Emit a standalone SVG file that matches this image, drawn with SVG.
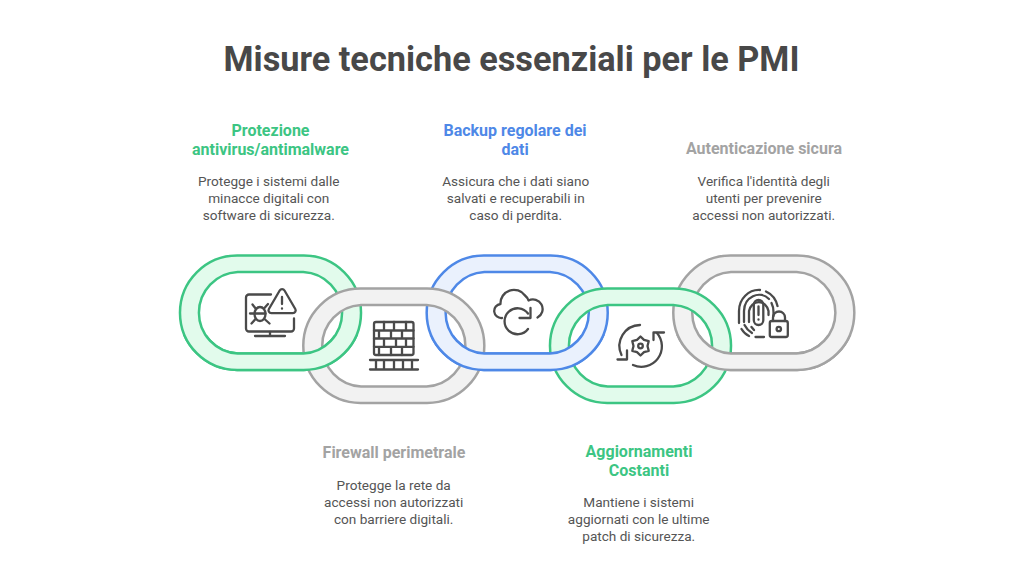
<svg xmlns="http://www.w3.org/2000/svg" width="1024" height="576" viewBox="0 0 1024 576">
<style>
text{font-family:Roboto,"Liberation Sans",sans-serif;text-anchor:middle}
.t{font-size:34.3px;font-weight:700;fill:#484848}
.h{font-size:16px;font-weight:700}
.b{font-size:13.6px;fill:#555}
.g{fill:#e2fbec;stroke:#3cc583}
.u{fill:#eaf1fd;stroke:#4e88e7}
.y{fill:#f2f2f2;stroke:#a3a3a3}
.r{stroke-width:2.5;fill-rule:evenodd}
.i{fill:none;stroke:#4a4a4a;stroke-width:2.3;stroke-linecap:round;stroke-linejoin:round}
</style>
<defs>
<path id="ring" d="M57.200 0H123.800A57.200 57.200 0 0 1 123.800 114.500H57.200A57.200 57.200 0 0 1 57.200 0ZM57.700 16.500A40.800 40.800 0 0 0 57.700 98H123.300A40.800 40.800 0 0 0 123.300 16.500Z"/>
<clipPath id="low"><rect x="0" y="335" width="1024" height="60"/></clipPath>
</defs>
<rect width="1024" height="576" fill="#fff"/>
<text class="t" x="511.500" y="70.500">Misure tecniche essenziali per le PMI</text>

<g id="link-1">
<use href="#ring" class="g r" x="180" y="255.500"/>
<g class="i">
<path d="M271 294.500H249a3 3 0 0 0-3 3V328.500a3 3 0 0 0 3 3H291a3 3 0 0 0 3-3V318.500"/>
<path d="M270 332V335.500M255 336H285"/>
<path d="M279.700 290.500a2.800 2.800 0 0 1 4.800 0L295.300 309a2.800 2.800 0 0 1-2.400 4.200H271.300a2.800 2.800 0 0 1-2.400-4.200Z"/>
<path d="M282 297V304M282 308.500V308.700"/>
<ellipse cx="260" cy="314" rx="5.500" ry="7"/>
<path d="M254.500 313.500H265.500M256 309L252.500 304.500M264 308.500L268 304M254.500 313.500H250M255.500 319L251.500 323.500M264.500 319L269.500 323.500"/>
</g>
<text class="h" fill="#3cc583"><tspan x="270.500" y="135.500">Protezione</tspan><tspan x="270.500" y="154.500">antivirus/antimalware</tspan></text>
<text class="b"><tspan x="268.700" y="185.500">Protegge i sistemi dalle</tspan><tspan x="268.700" y="202.500">minacce digitali con</tspan><tspan x="268.700" y="219.500">software di sicurezza.</tspan></text>
</g>

<g id="link-3">
<use href="#ring" class="u r" x="426.700" y="255.500"/>
<g class="i">
<path d="M502 318A7 7 0 0 1 500.500 304A13.500 13.500 0 0 1 525 295.500Q527.500 297.500 528.500 300.500A9.500 9.500 0 0 1 537.500 317.500"/>
<path d="M528 313.500A13 13 0 1 0 528 329"/>
<path d="M519.500 318H530.500V308"/>
</g>
<text class="h" fill="#4e88e7"><tspan x="515" y="135.500">Backup regolare dei</tspan><tspan x="515" y="154.500">dati</tspan></text>
<text class="b"><tspan x="515.700" y="185.500">Assicura che i dati siano</tspan><tspan x="515.700" y="202.500">salvati e recuperabili in</tspan><tspan x="515.700" y="219.500">caso di perdita.</tspan></text>
</g>

<g id="link-5">
<use href="#ring" class="y r" x="673.300" y="255.500"/>
<g class="i">
<path d="M739 323V311A20 21 0 0 1 760 290M766 291.500A20 21 0 0 1 777.500 306"/>
<path d="M741.500 329Q744.500 334 749 336M755.500 337H764"/>
<path d="M744 322V311A15 16.500 0 0 1 769 299M771.500 303Q773.500 307 773.500 312V316"/>
<path d="M744.500 325Q747 330 752 333"/>
<path d="M749 322V311A10 11.500 0 0 1 768.500 311V315M751.500 327L754 330"/>
<rect x="753.800" y="300" width="9.500" height="25" rx="4.700"/>
<path d="M758.500 306.500V315M758.500 319.500V319.700"/>
<rect x="769.800" y="321" width="18" height="16" rx="2"/>
<path d="M773 321V317.500A6 6 0 0 1 785 317.500V321"/>
<circle cx="778.800" cy="329" r="2.200"/>
</g>
<text class="h" fill="#a3a3a3" x="764" y="153.500">Autenticazione sicura</text>
<text class="b"><tspan x="763.700" y="185.500">Verifica l'identità degli</tspan><tspan x="763.700" y="202.500">utenti per prevenire</tspan><tspan x="763.700" y="219.500">accessi non autorizzati.</tspan></text>
</g>

<g id="link-2">
<use href="#ring" class="y r" x="303.300" y="288.500"/>
<g class="i">
<rect x="374" y="322" width="39.500" height="33" rx="2"/>
<path d="M374 330.500H413.500M374 338.500H413.500M374 346.800H413.500M384 322V330.500M394 322V330.500M406 322V330.500M379 330.500V338.500M391 330.500V338.500M402 330.500V338.500M384 338.500V346.800M396 338.500V346.800M406 338.500V346.800M379 346.800V355M391 346.800V355M402 346.800V355"/>
<path d="M370 360H418M370 369.500H418M376 360V369.500M384 360V369.500M394 360V369.500M403 360V369.500M412 360V369.500"/>
</g>
<text class="h" fill="#a3a3a3" x="394" y="457.500">Firewall perimetrale</text>
<text class="b"><tspan x="393.700" y="489.500">Protegge la rete da</tspan><tspan x="393.700" y="506.500">accessi non autorizzati</tspan><tspan x="393.700" y="523.500">con barriere digitali.</tspan></text>
</g>

<g id="link-4">
<use href="#ring" class="g r" x="550" y="288.500"/>
<g class="i">
<path d="M640 325A21 21 0 0 0 621.500 355"/>
<path d="M617.500 359.500H627V350.500"/>
<path d="M633 365A20.500 20.500 0 0 0 657 333"/>
<path d="M653.500 340V332.500H664"/>
<path d="M640.500 336.500L644 339.900L648.700 341.200L647.500 346L648.700 350.800L644 352.100L640.500 355.500L637 352.100L632.300 350.800L633.500 346L632.300 341.200L637 339.900Z"/>
<circle cx="640.500" cy="346" r="2.300"/>
</g>
<text class="h" fill="#3cc583"><tspan x="639" y="456.500">Aggiornamenti</tspan><tspan x="639" y="475.500">Costanti</tspan></text>
<text class="b"><tspan x="638.700" y="506.500">Mantiene i sistemi</tspan><tspan x="638.700" y="523.500">aggiornati con le ultime</tspan><tspan x="638.700" y="540.500">patch di sicurezza.</tspan></text>
</g>

<g id="interlace" clip-path="url(#low)">
<use href="#ring" class="g r" x="180" y="255.500"/>
<use href="#ring" class="u r" x="426.700" y="255.500"/>
<use href="#ring" class="y r" x="673.300" y="255.500"/>
</g>
</svg>
